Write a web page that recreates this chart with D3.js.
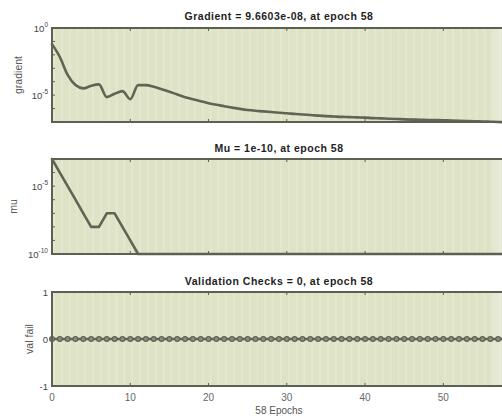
<!DOCTYPE html>
<html>
<head>
<meta charset="utf-8">
<script src="https://cdn.jsdelivr.net/npm/d3@7/dist/d3.min.js"></script>
<style>
  html, body { margin: 0; padding: 0; background: #fff; }
  svg { display: block; overflow: hidden; }
  text { font-family: "Liberation Sans", Arial, sans-serif; }
</style>
</head>
<body>
<svg id="chart" width="502" height="418"></svg>
<script>
// Training state per epoch (epochs 0..58)
const gradient = [
  6.3e-2, 6.9e-3, 3.2e-4, 5.6e-5, 3.2e-5, 5.0e-5, 6.3e-5, 7.1e-6, 1.26e-5, 2.0e-5,
  5.0e-6, 5.6e-5, 5.6e-5, 4.2e-5, 2.8e-5, 1.8e-5, 1.1e-5, 7.1e-6, 5.0e-6, 3.5e-6,
  2.5e-6, 1.9e-6, 1.5e-6, 1.17e-6, 9.5e-7, 7.9e-7, 6.9e-7, 6.2e-7, 5.5e-7, 4.9e-7,
  4.5e-7, 4.0e-7, 3.6e-7, 3.3e-7, 3.0e-7, 2.75e-7, 2.57e-7, 2.4e-7, 2.3e-7, 2.2e-7,
  2.1e-7, 1.95e-7, 1.86e-7, 1.74e-7, 1.66e-7, 1.58e-7, 1.51e-7, 1.48e-7, 1.41e-7, 1.38e-7,
  1.35e-7, 1.29e-7, 1.23e-7, 1.17e-7, 1.12e-7, 1.10e-7, 1.05e-7, 1.0e-7, 9.6603e-8
];
const mu = [
  1e-3, 1e-4, 1e-5, 1e-6, 1e-7, 1e-8, 1e-8, 1e-7, 1e-7, 1e-8,
  1e-9, 1e-10, 1e-10, 1e-10, 1e-10, 1e-10, 1e-10, 1e-10, 1e-10, 1e-10,
  1e-10, 1e-10, 1e-10, 1e-10, 1e-10, 1e-10, 1e-10, 1e-10, 1e-10, 1e-10,
  1e-10, 1e-10, 1e-10, 1e-10, 1e-10, 1e-10, 1e-10, 1e-10, 1e-10, 1e-10,
  1e-10, 1e-10, 1e-10, 1e-10, 1e-10, 1e-10, 1e-10, 1e-10, 1e-10, 1e-10,
  1e-10, 1e-10, 1e-10, 1e-10, 1e-10, 1e-10, 1e-10, 1e-10, 1e-10
];
const valFail = [
  0,0,0,0,0,0,0,0,0,0, 0,0,0,0,0,0,0,0,0,0,
  0,0,0,0,0,0,0,0,0,0, 0,0,0,0,0,0,0,0,0,0,
  0,0,0,0,0,0,0,0,0,0, 0,0,0,0,0,0,0,0,0
];
const epochCount = 58;
const xTicks = [0, 10, 20, 30, 40, 50];
const titles = [
  "Gradient = 9.6603e-08, at epoch 58",
  "Mu = 1e-10, at epoch 58",
  "Validation Checks = 0, at epoch 58"
];
const yLabels = ["gradient", "mu", "val fail"];

const svg = d3.select("#chart");
const bg = "#dee3c6";
const bgLight = "#e5e8d3";
const frame = "#5b6052";
const lineCol = "#5f6454";
const textCol = "#444";

const x = d3.scaleLinear().domain([0, epochCount]).range([52, 506]);

const panels = [
  { top: 28, bottom: 122, values: gradient, log: true, domain: [1e-7, 1], smooth: true,
    yTicks: [{v: 1, e: "0"}, {v: 1e-5, e: "-5"}], labelX: 22, titleY: 20 },
  { top: 159, bottom: 254, values: mu, log: true, domain: [1e-10, 1e-3], smooth: false,
    yTicks: [{v: 1e-5, e: "-5"}, {v: 1e-10, e: "-10"}], labelX: 17, titleY: 152 },
  { top: 292, bottom: 386, values: valFail, log: false, domain: [-1, 1], smooth: false,
    yTicks: [{v: 1, t: "1"}, {v: 0, t: "0"}, {v: -1, t: "-1"}], labelX: 33, titleY: 285 }
];

panels.forEach((p, i) => {
  const y = (p.log ? d3.scaleLog() : d3.scaleLinear())
    .domain(p.domain).range([p.bottom, p.top]);
  const g = svg.append("g");
  const x0 = x.range()[0], x1 = x.range()[1];

  // plot background, slightly lighter over the last epochs
  g.append("rect").attr("x", x0).attr("y", p.top)
    .attr("width", x1 - x0).attr("height", p.bottom - p.top).attr("fill", bg);
  g.append("rect").attr("x", x(56.4)).attr("y", p.top)
    .attr("width", x1 - x(56.4)).attr("height", p.bottom - p.top).attr("fill", bgLight);

  // faint per-epoch stripes
  g.selectAll("line.stripe").data(d3.range(0, epochCount + 1)).enter()
    .append("line")
    .attr("x1", d => x(d) + 2).attr("x2", d => x(d) + 2)
    .attr("y1", p.top).attr("y2", p.bottom)
    .attr("stroke", "#ffffff").attr("stroke-opacity", 0.18).attr("stroke-width", 2);

  // x ticks on top and bottom edges
  xTicks.slice(1).forEach(t => {
    g.append("line").attr("x1", x(t)).attr("x2", x(t))
      .attr("y1", p.bottom).attr("y2", p.bottom - 3)
      .attr("stroke", frame).attr("stroke-width", 1);
    g.append("line").attr("x1", x(t)).attr("x2", x(t))
      .attr("y1", p.top).attr("y2", p.top + 3)
      .attr("stroke", frame).attr("stroke-width", 1);
  });

  // y ticks
  if (p.log) {
    const lo = Math.round(Math.log10(p.domain[0]));
    const hi = Math.round(Math.log10(p.domain[1]));
    d3.range(lo, hi + 1).forEach(k => {
      g.append("line").attr("x1", x0).attr("x2", x0 + 3)
        .attr("y1", y(Math.pow(10, k))).attr("y2", y(Math.pow(10, k)))
        .attr("stroke", frame).attr("stroke-width", 1);
    });
  } else {
    [-1, 0, 1].forEach(v => {
      g.append("line").attr("x1", x0).attr("x2", x0 + 3)
        .attr("y1", y(v)).attr("y2", y(v))
        .attr("stroke", frame).attr("stroke-width", 1);
    });
  }

  // y tick labels
  p.yTicks.forEach(t => {
    const tx = g.append("text").attr("x", x0 - 4).attr("y", y(t.v) + 3.5)
      .attr("text-anchor", "end").attr("fill", textCol).attr("font-size", 9.5);
    if (t.e !== undefined) {
      tx.append("tspan").text("10");
      tx.append("tspan").attr("dy", -4.5).attr("font-size", 6.5).text(t.e);
    } else {
      tx.text(t.t);
    }
  });

  // series
  const line = d3.line().x((d, k) => x(k)).y(d => y(d))
    .curve(p.smooth ? d3.curveMonotoneX : d3.curveLinear);
  g.append("path").datum(p.values)
    .attr("d", line).attr("fill", "none")
    .attr("stroke", lineCol).attr("stroke-width", 2.6)
    .attr("stroke-linejoin", "round").attr("stroke-linecap", "round");

  if (!p.log) {
    g.selectAll("circle.mk").data(p.values).enter().append("circle")
      .attr("cx", (d, k) => x(k)).attr("cy", d => y(d)).attr("r", 2.4)
      .attr("fill", "#8a8f7c").attr("stroke", lineCol).attr("stroke-width", 1.2);
  }

  // frame
  g.append("rect").attr("x", x0).attr("y", p.top)
    .attr("width", x1 - x0).attr("height", p.bottom - p.top)
    .attr("fill", "none").attr("stroke", frame).attr("stroke-width", 2);

  // title
  g.append("text").attr("x", 279).attr("y", p.titleY)
    .attr("text-anchor", "middle").attr("font-weight", "bold")
    .attr("font-size", 10.5).attr("letter-spacing", 0.5)
    .attr("fill", "#1e1e1e").text(titles[i]);

  // y label
  const cy = (p.top + p.bottom) / 2;
  g.append("text").attr("transform", `translate(${p.labelX},${cy}) rotate(-90)`)
    .attr("text-anchor", "middle").attr("font-size", 10.5).attr("fill", "#555")
    .text(yLabels[i]);

  // x tick labels on the bottom panel
  if (i === panels.length - 1) {
    xTicks.forEach(t => {
      g.append("text").attr("x", x(t)).attr("y", p.bottom + 15)
        .attr("text-anchor", "middle").attr("font-size", 10).attr("fill", "#666")
        .text(t);
    });
    g.append("text").attr("x", 279).attr("y", p.bottom + 28)
      .attr("text-anchor", "middle").attr("font-size", 10).attr("fill", "#555")
      .text(epochCount + " Epochs");
  }
});
</script>
</body>
</html>
